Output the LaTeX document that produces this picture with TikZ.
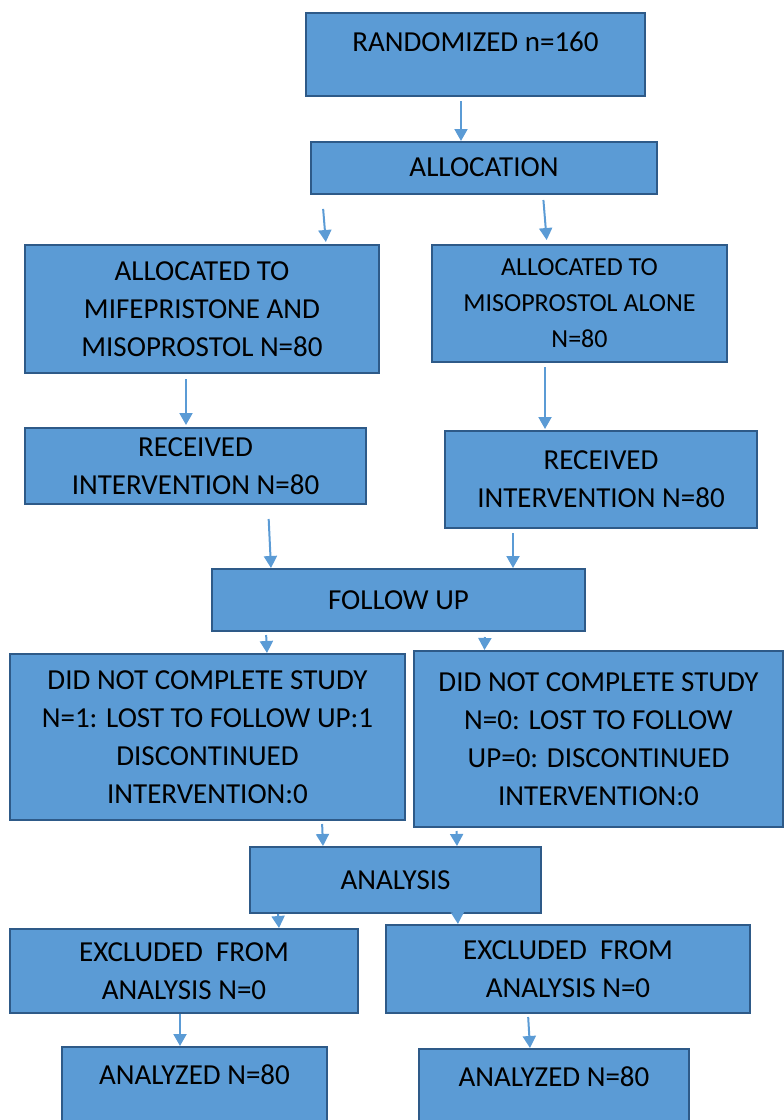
\documentclass[tikz,border=0pt]{standalone}
\usepackage{fontspec}
\setmainfont{Carlito}
\usetikzlibrary{arrows.meta}
\definecolor{boxfill}{HTML}{5B9BD5}
\definecolor{boxedge}{HTML}{2E5A88}
\definecolor{arrowblue}{HTML}{5B9BD5}

\begin{document}
\begin{tikzpicture}[
      x=1pt, y=-1pt,
      every node/.style={font=\fontsize{29}{38}\selectfont},
      stagebox/.style={draw=boxedge, line width=2pt, fill=boxfill, align=center,
                       inner sep=0pt, minimum width=#1},
      arr/.style={draw=arrowblue, line width=2pt, -{Triangle[width=13pt,length=12pt]}},
    ]
    \useasboundingbox (0,0) rectangle (784,1120);

    \node[stagebox=339pt, minimum height=83pt, text depth=25pt] (rand) at (475.5,54.5)
      {RANDOMIZED n=160};
    \node[stagebox=346pt, minimum height=52pt, text depth=2pt] (alloc) at (484,168) {ALLOCATION};

    \node[stagebox=354pt, minimum height=128pt] (mife) at (202,309)
      {ALLOCATED TO\\MIFEPRISTONE AND\\MISOPROSTOL N=80};
    \node[stagebox=295pt, minimum height=117pt, font=\fontsize{26}{36}\selectfont] (miso) at (579.5,303.5)
      {ALLOCATED TO\\MISOPROSTOL ALONE\\N=80};

    \node[stagebox=341pt, minimum height=76pt] (recv1) at (195.5,466)
      {RECEIVED\\INTERVENTION N=80};
    \node[stagebox=312pt, minimum height=97pt] (recv2) at (601,479.5)
      {RECEIVED\\INTERVENTION N=80};

    \node[stagebox=373pt, minimum height=62pt] (follow) at (398.5,600) {FOLLOW UP};

    \node[stagebox=395pt, minimum height=166pt] (dnc1) at (207.5,737)
      {DID NOT COMPLETE STUDY\\N=1: LOST TO FOLLOW UP:1\\DISCONTINUED\\INTERVENTION:0};
    \node[stagebox=369pt, minimum height=176pt] (dnc2) at (598.5,739)
      {DID NOT COMPLETE STUDY\\N=0: LOST TO FOLLOW\\UP=0: DISCONTINUED\\INTERVENTION:0};

    \node[stagebox=291pt, minimum height=66pt] (analysis) at (395.5,880) {ANALYSIS};

    \node[stagebox=348pt, minimum height=84pt] (excl1) at (184,971)
      {EXCLUDED~ FROM\\ANALYSIS N=0};
    \node[stagebox=364pt, minimum height=88pt] (excl2) at (568,969)
      {EXCLUDED~ FROM\\ANALYSIS N=0};

    \node[stagebox=265pt, minimum height=80pt, text depth=24pt] (an1) at (194.5,1087)
      {ANALYZED N=80};
    \node[stagebox=270pt, minimum height=78pt, text depth=22pt] (an2) at (554,1088)
      {ANALYZED N=80};

    \draw[arr, shorten <=4pt] ([xshift=-14.5pt]rand.south) -- ([xshift=-23pt]alloc.north);
    \draw[arr, shorten <=14pt, shorten >=2pt] ([xshift=-162pt]alloc.south) -- ([xshift=124pt]mife.north);
    \draw[arr, shorten <=5pt, shorten >=4pt] ([xshift=59pt]alloc.south) -- ([xshift=-32.5pt]miso.north);
    \draw[arr, shorten <=5pt, shorten >=2pt] ([xshift=-16pt]mife.south) -- ([xshift=-9.5pt]recv1.north);
    \draw[arr, shorten <=4pt, shorten >=1pt] ([xshift=-34.5pt]miso.south) -- ([xshift=-56pt]recv2.north);
    \draw[arr, shorten <=14pt] ([xshift=72.5pt]recv1.south) -- ([xshift=-127.5pt]follow.north);
    \draw[arr, shorten <=4pt] ([xshift=-88pt]recv2.south) -- ([xshift=114.5pt]follow.north);
    \draw[arr, shorten <=3pt] ([xshift=-132.5pt]follow.south) -- ([xshift=59.5pt]dnc1.north);
    \draw[arr, shorten <=5pt] ([xshift=86.5pt]follow.south) -- ([xshift=-114pt]dnc2.north);
    \draw[arr, shorten <=3pt] ([xshift=114.5pt]dnc1.south) -- ([xshift=-72.5pt]analysis.north);
    \draw[arr, shorten <=3pt] ([xshift=-142pt]dnc2.south) -- ([xshift=61.5pt]analysis.north);
    \draw[arr] ([xshift=-117.5pt]analysis.south) -- ([xshift=95pt]excl1.north);
    \draw[arr] ([xshift=62pt]analysis.south) -- ([xshift=-110pt]excl2.north);
    \draw[arr] ([xshift=-4pt]excl1.south) -- ([xshift=-14.5pt]an1.north);
    \draw[arr, shorten <=3pt] ([xshift=-40pt]excl2.south) -- ([xshift=-24pt]an2.north);
  \end{tikzpicture}
\end{document}
